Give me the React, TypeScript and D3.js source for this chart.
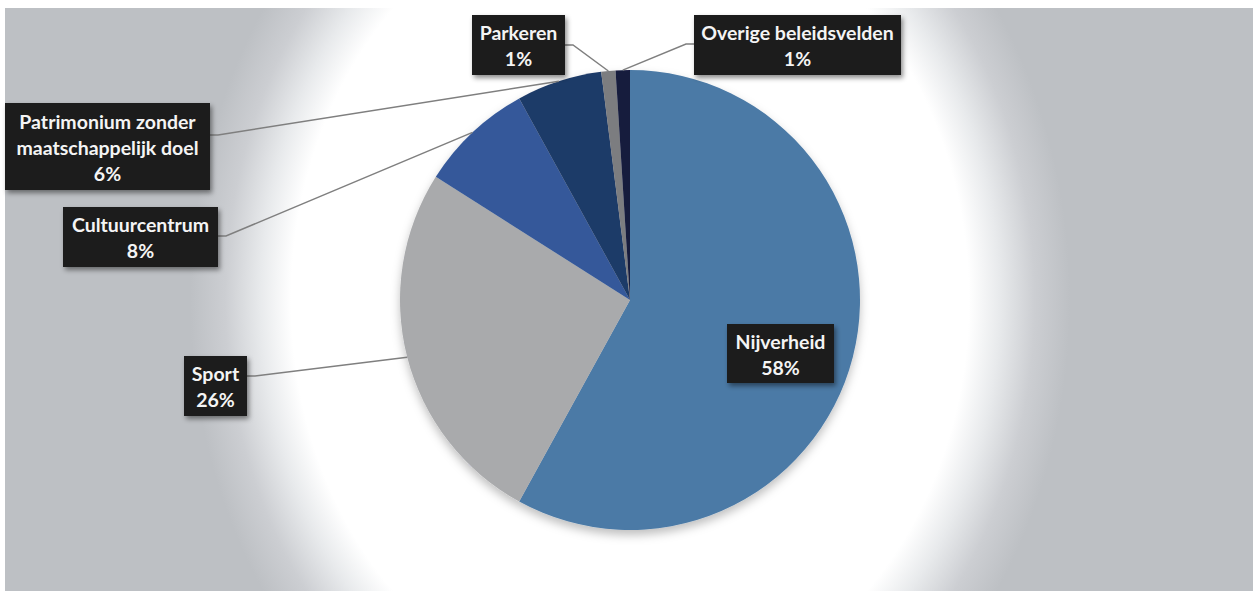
import React from "react";
import * as d3 from "d3";

// slices, clockwise from 12 o'clock
const categories = [
  "Nijverheid",
  "Sport",
  "Cultuurcentrum",
  "Patrimonium zonder maatschappelijk doel",
  "Parkeren",
  "Overige beleidsvelden",
];
const shares = [58, 26, 8, 6, 1, 1];
const nameLines = [
  ["Nijverheid"],
  ["Sport"],
  ["Cultuurcentrum"],
  ["Patrimonium zonder", "maatschappelijk doel"],
  ["Parkeren"],
  ["Overige beleidsvelden"],
];
const sliceColors = ["#4b7aa6", "#a9aaac", "#35599a", "#1f3a68", "#7c7d80", "#141a3e"];

// label boxes (left, top, width, height), leader side and attach y
const labelBoxes = [
  { x: 727, y: 324, w: 107, h: 59, side: "none", ly: 0 },
  { x: 184, y: 356, w: 63, h: 60, side: "right", ly: 376 },
  { x: 63, y: 207, w: 155, h: 60, side: "right", ly: 236 },
  { x: 5, y: 103, w: 205, h: 87, side: "right", ly: 135 },
  { x: 472, y: 15, w: 93, h: 60, side: "right", ly: 45 },
  { x: 694, y: 15, w: 207, h: 60, side: "left", ly: 44 },
];

const width = 1253;
const height = 591;
const cx = 630;
const cy = 300;
const radius = 230;
const lineH = 26;

export default function App() {
  const pie = d3.pie<number>().sort(null).value((d) => d)(shares);
  const arc = d3.arc<d3.PieArcDatum<number>>().innerRadius(0).outerRadius(radius);

  return (
    <div style={{ position: "absolute", left: 0, top: 0 }}>
      <svg width={width} height={height} style={{ display: "block", background: "#fff" }}>
        <defs>
          <radialGradient
            id="bg"
            gradientUnits="userSpaceOnUse"
            cx={cx}
            cy={cy}
            r={440}
            gradientTransform={`translate(${cx},${cy}) scale(1,1.2) translate(${-cx},${-cy})`}
          >
            <stop offset="0" stopColor="#ffffff" />
            <stop offset="0.77" stopColor="#ffffff" />
            <stop offset="0.84" stopColor="#e8eaec" />
            <stop offset="0.92" stopColor="#ccced2" />
            <stop offset="1" stopColor="#bdc0c4" />
          </radialGradient>
          <filter id="boxShadow" x="-10%" y="-20%" width="130%" height="150%">
            <feDropShadow dx="2" dy="3" stdDeviation="2.5" floodColor="#000" floodOpacity="0.45" />
          </filter>
          <filter id="pieShadow" x="-10%" y="-10%" width="120%" height="125%">
            <feDropShadow dx="0" dy="5" stdDeviation="5" floodColor="#000" floodOpacity="0.25" />
          </filter>
        </defs>

        <rect x={5} y={8} width={width - 5} height={height - 8} fill="url(#bg)" />

        <g transform={`translate(${cx},${cy})`} filter="url(#pieShadow)">
          {pie.map((d, i) => (
            <path key={categories[i]} d={arc(d) || ""} fill={sliceColors[i]} />
          ))}
        </g>

        {/* leader lines */}
        {pie.map((d, i) => {
          const b = labelBoxes[i];
          if (b.side === "none") return null;
          const a = (d.startAngle + d.endAngle) / 2;
          const px = cx + radius * Math.sin(a);
          const py = cy - radius * Math.cos(a);
          const sx = b.side === "right" ? b.x + b.w : b.x;
          const sy = b.ly;
          const ex = b.side === "right" ? sx + 8 : sx - 8;
          return (
            <polyline
              key={"l" + i}
              points={`${sx},${sy} ${ex},${sy} ${px},${py}`}
              fill="none"
              stroke="#7f7f7f"
              strokeWidth={1.5}
            />
          );
        })}

        {/* label boxes */}
        {pie.map((d, i) => {
          const b = labelBoxes[i];
          const lines = [...nameLines[i], `${shares[i]}%`];
          const top = b.y + b.h / 2 - (lines.length * lineH) / 2;
          return (
            <g key={"b" + i}>
              <rect x={b.x} y={b.y} width={b.w} height={b.h} fill="#1b1b1b" filter="url(#boxShadow)" />
              <text
                textAnchor="middle"
                fill="#f4f4f4"
                fontFamily="Lato, 'Open Sans', sans-serif"
                fontWeight={700}
                fontSize={19.5}
              >
                {lines.map((t, j) => (
                  <tspan key={j} x={b.x + b.w / 2} y={top + j * lineH + 21}>
                    {t}
                  </tspan>
                ))}
              </text>
            </g>
          );
        })}
      </svg>
    </div>
  );
}
